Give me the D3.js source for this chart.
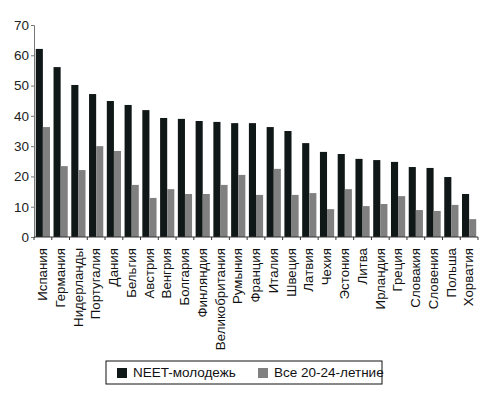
<!DOCTYPE html>
<html>
<head>
<meta charset="utf-8">
<script src="https://cdn.jsdelivr.net/npm/d3@7"></script>
<style>
  body { margin: 0; background: #fff; }
  text { font-family: "Liberation Sans", Arial, sans-serif; }
</style>
</head>
<body>
<div id="chart"></div>
<script>
const countries = ["Испания", "Германия", "Нидерланды", "Португалия", "Дания", "Бельгия", "Австрия",
  "Венгрия", "Болгария", "Финляндия", "Великобритания", "Румыния", "Франция", "Италия", "Швеция",
  "Латвия", "Чехия", "Эстония", "Литва", "Ирландия", "Греция", "Словакия", "Словения", "Польша", "Хорватия"];
const neet = [62.1, 56.1, 50.2, 47.2, 44.9, 43.6, 41.9, 39.3, 39.0, 38.3, 38.0, 37.6, 37.6, 36.3, 35.0,
  31.0, 28.1, 27.4, 25.8, 25.4, 24.8, 23.1, 22.8, 19.8, 14.2];
const all2024 = [36.3, 23.4, 22.1, 30.0, 28.4, 17.2, 12.9, 15.8, 14.2, 14.2, 17.2, 20.5, 13.9, 22.5, 13.9,
  14.5, 9.2, 15.8, 10.2, 10.9, 13.5, 8.9, 8.6, 10.6, 5.9];
const seriesNames = ["NEET-молодежь", "Все 20-24-летние"];
const yTicks = [0, 10, 20, 30, 40, 50, 60, 70];

const width = 487, height = 396;
const margin = { left: 34, right: 9, top: 25, bottom: 159 };
const colors = ["#101817", "#808080"];

const svg = d3.select("#chart").append("svg")
  .attr("width", width)
  .attr("height", height);

const x = d3.scaleBand()
  .domain(countries)
  .range([margin.left, width - margin.right])
  .paddingInner(0.2)
  .paddingOuter(0.1);

const xSub = d3.scaleBand()
  .domain([0, 1])
  .range([0, x.bandwidth()]);

const y = d3.scaleLinear()
  .domain([0, 70])
  .range([height - margin.bottom, margin.top]);

// bars
const data = countries.map((c, i) => ({ country: c, values: [neet[i], all2024[i]] }));

const groups = svg.append("g")
  .selectAll("g")
  .data(data)
  .enter()
  .append("g")
  .attr("transform", d => `translate(${x(d.country)},0)`);

groups.selectAll("rect")
  .data(d => d.values)
  .enter()
  .append("rect")
  .attr("x", (d, i) => xSub(i))
  .attr("width", xSub.bandwidth())
  .attr("y", d => y(d))
  .attr("height", d => y(0) - y(d))
  .attr("fill", (d, i) => colors[i]);

// y axis
const yAxis = svg.append("g")
  .attr("transform", `translate(${margin.left},0)`)
  .call(d3.axisLeft(y).tickValues(yTicks).tickSize(3).tickPadding(2));
yAxis.select(".domain").attr("stroke", "#777");
yAxis.selectAll(".tick line").attr("stroke", "#777");
yAxis.selectAll("text")
  .style("font-size", "13.5px")
  .attr("fill", "#222");

// x axis: ticks at category boundaries
const boundaries = d3.range(countries.length + 1).map(i => margin.left + i * (width - margin.left - margin.right) / countries.length);
const xAxis = svg.append("g")
  .attr("transform", `translate(0,${y(0)})`);
xAxis.append("line")
  .attr("x1", margin.left)
  .attr("x2", width - margin.right)
  .attr("stroke", "#333");
xAxis.selectAll("line.tick")
  .data(boundaries)
  .enter()
  .append("line")
  .attr("class", "tick")
  .attr("x1", d => d)
  .attr("x2", d => d)
  .attr("y1", 0)
  .attr("y2", 3)
  .attr("stroke", "#333");

xAxis.selectAll("text")
  .data(countries)
  .enter()
  .append("text")
  .attr("transform", d => `translate(${x(d) + x.bandwidth() / 2 + 4.2},11) rotate(-90)`)
  .attr("text-anchor", "end")
  .style("font-size", "13.3px")
  .attr("fill", "#111")
  .text(d => d);

// legend
const legend = svg.append("g").attr("transform", "translate(106,361)");
legend.append("rect")
  .attr("width", 276)
  .attr("height", 23)
  .attr("fill", "none")
  .attr("stroke", "#111");

const legendX = [11, 152];
seriesNames.forEach((name, i) => {
  legend.append("rect")
    .attr("x", legendX[i])
    .attr("y", 7)
    .attr("width", 10)
    .attr("height", 10)
    .attr("fill", colors[i]);
  legend.append("text")
    .attr("x", legendX[i] + 16)
    .attr("y", 16)
    .style("font-size", "13.5px")
    .attr("fill", "#111")
    .text(name);
});
</script>
</body>
</html>
